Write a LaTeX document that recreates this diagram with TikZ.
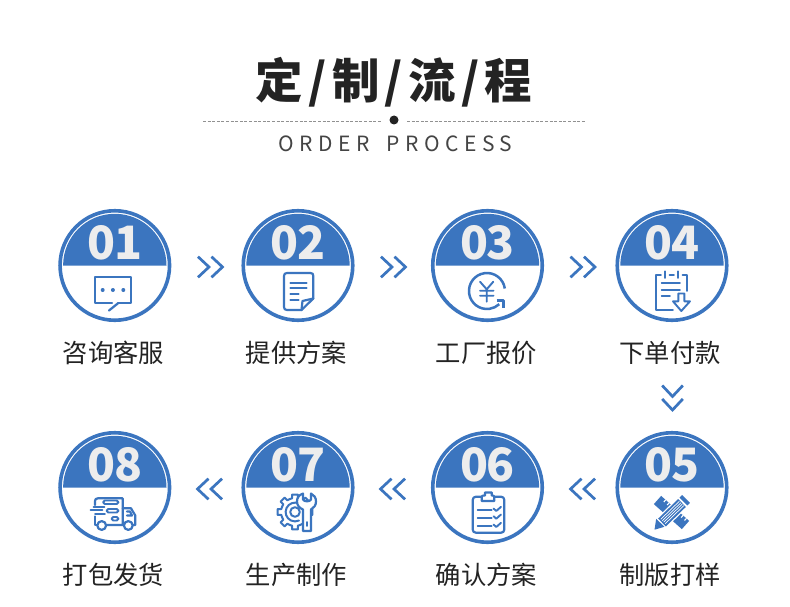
\documentclass[tikz,border=0pt]{standalone}
\usepackage{fontspec}
\newfontfamily\cjk{Noto Sans CJK SC}
\newfontfamily\cjknum[LetterSpace=-3]{Noto Sans CJK SC}
\newfontfamily\cjktitle[LetterSpace=11]{Noto Sans CJK SC}
\newfontfamily\engl[LetterSpace=26,WordSpace=1.7]{Noto Sans CJK SC}
\definecolor{brand}{HTML}{3B75BF}
\definecolor{ink}{HTML}{232323}
\definecolor{numgray}{HTML}{EDEDED}
\tikzset{
  ring/.style={circle,draw=brand,line width=3.6pt,minimum size=109.5pt,inner sep=0pt,fill=white},
  numtxt/.style={text=numgray,font=\cjknum\bfseries\fontsize{46}{46}\selectfont,inner sep=0pt},
  lbl/.style={text=ink,font=\cjk\fontsize{25.3}{25.3}\selectfont,inner sep=0pt},
  chevline/.style={draw=brand,line width=2.7pt,line cap=butt,line join=miter},
  ico/.style={draw=brand,line width=2.2pt,line cap=round,line join=round},
  icothin/.style={draw=brand,line width=1.9pt,line cap=round,line join=round},
}
\newcommand{\stepmark}[6]{% name x y num label labelx
  \node[ring] (#1) at (#2,#3) {};
  \fill[brand] (#2-51.7,#3) arc[start angle=180,end angle=360,radius=51.7] -- cycle;
  \node[numtxt] (#1n) at (#2,#3-23) {#4};
  \node[lbl] (#1l) at (#6,#3+87.5) {#5};
}
\newcommand{\chev}[3]{\draw[chevline] (#1-11*#3,#2-10.3) -- (#1,#2) -- (#1-11*#3,#2+10.3);}
\newcommand{\vchev}[2]{\draw[chevline] (#1-10.3,#2-11) -- (#1,#2) -- (#1+10.3,#2-11);}
\begin{document}
\begin{tikzpicture}[x=1pt,y=-1pt]
\useasboundingbox (0,0) rectangle (790,607);
\fill[white] (0,0) rectangle (790,607);
% title
\node[text=ink,inner sep=0pt,font=\cjktitle\bfseries\fontsize{47.5}{47.5}\selectfont] (title) at (394,82) {定/制/流/程};
\node[circle,fill=ink,minimum size=9pt,inner sep=0pt] (dot) at (394,120) {};
\coordinate (ruleA) at (203,121.5);
\coordinate (ruleB) at (381,121.5);
\coordinate (ruleC) at (407,121.5);
\coordinate (ruleD) at (586,121.5);
\draw[draw=ink!50,line width=.7pt,dash pattern=on 3pt off 1.6pt] (ruleA) -- (ruleB);
\draw[draw=ink!50,line width=.7pt,dash pattern=on 3pt off 1.6pt] (ruleC) -- (ruleD);
\node[text=ink!85,inner sep=0pt,font=\engl\fontsize{21}{21}\selectfont] (sub) at (395.5,144) {ORDER PROCESS};
% steps
\stepmark{s1}{114.8}{265.5}{01}{咨询客服}{113.5}
\stepmark{s2}{298}{265.5}{02}{提供方案}{296.5}
\stepmark{s3}{487.5}{265.5}{03}{工厂报价}{486.5}
\stepmark{s4}{672}{265.5}{04}{下单付款}{670}
\stepmark{s5}{672}{487.5}{05}{制版打样}{670}
\stepmark{s6}{487.5}{487.5}{06}{确认方案}{486.5}
\stepmark{s7}{298}{487.5}{07}{生产制作}{296.5}
\stepmark{s8}{114.8}{487.5}{08}{打包发货}{113.5}
% chevrons
\chev{209}{267}{1}\chev{222.5}{267}{1}
\chev{392}{267}{1}\chev{405.5}{267}{1}
\chev{581.5}{267}{1}\chev{595}{267}{1}
\chev{197.5}{489}{-1}\chev{211}{489}{-1}
\chev{380.5}{489}{-1}\chev{394}{489}{-1}
\chev{570.5}{489}{-1}\chev{584}{489}{-1}
\vchev{672.5}{396.5}\vchev{672.5}{410}
% icon 01
\draw[ico] (118,303.3) -- (131,303.3) -- (131,277.3) -- (95,277.3) -- (95,303.3) -- (112,303.3);
\draw[ico] (109,310.5) -- (118,303.3);
\fill[brand] (102.7,290) circle[radius=2] (112.9,290) circle[radius=2] (123.3,290) circle[radius=2];
% icon 02
\draw[ico] (301.5,310) -- (287,310) .. controls (285,310) and (284,309) .. (284,307) -- (284,276) .. controls (284,274) and (285,273) .. (287,273) -- (310.5,273) .. controls (312.5,273) and (313.3,274) .. (313.3,276) -- (313.3,298.5) -- cycle;
\draw[ico] (301.5,310) -- (302.5,301) -- (313.3,298.5);
\draw[ico] (290.5,282.7) -- (306.5,282.7) (290.5,288.3) -- (306.5,288.3) (290.5,294.3) -- (298.5,294.3) (290.5,300) -- (298.5,300);
% icon 03
\draw[ico,line cap=butt,line width=2.5pt] (504.8,288.5) arc[start angle=-8,end angle=-313,radius=18];
\draw[ico,line cap=butt,line width=2.8pt] (496.7,300.7) -- (503.3,300.7) -- (503.3,307.5);
\draw[icothin] (480,281.7) -- (486.7,289.3) -- (493.3,281.7) (480,290.7) -- (493.5,290.7) (480,295.7) -- (493.5,295.7) (486.7,289.3) -- (486.7,301.7);
% icon 04
\draw[icothin] (661,275.3) -- (656,275.3) -- (656,309.7) -- (673,309.7);
\draw[icothin] (669.5,275.3) -- (674,275.3);
\draw[icothin] (682.5,275.3) -- (686.7,275.3) -- (686.7,291);
\draw[icothin] (665,271.3) -- (665,278) (678.3,271.3) -- (678.3,278);
\draw[icothin] (661.7,283) -- (680,283) (661.7,289.7) -- (680,289.7) (661.7,296.3) -- (670,296.3);
\draw[icothin] (678.3,293.5) -- (684.3,293.5) -- (684.3,301.3) -- (690,301.3) -- (681.3,311) -- (673,301.3) -- (678.3,301.3) -- cycle;
% icon 05
\draw[brand,line width=11pt] (657.5,500) -- (685.5,525);
\foreach \t in {0.16,0.28,0.40,0.66,0.78,0.90}{
  \draw[white,line width=1.1pt] ({657.5+28*\t+3.8},{500+25*\t-4.2}) -- ({657.5+28*\t+1.8},{500+25*\t-2});
}
\draw[white,line width=13.5pt] (661,523.5) -- (686,499);
\draw[brand,line width=11pt] (662,522.5) -- (682,503);
\draw[brand,line width=11pt] (683.4,501.6) -- (686,499);
\foreach \s in {-2.2,-0.7,0.7,2.2}{
  \draw[white,line width=.7pt] ({663+\s},{521.5+\s}) -- ({681.5+\s},{503.5+\s});
}
\fill[brand] (654.5,529.7) -- (656.2,518.8) -- (664.4,526.8) -- cycle;
% icon 06
\draw[ico] (481.7,496.7) -- (476,496.7) .. controls (474,496.7) and (472.7,498) .. (472.7,500) -- (472.7,529.5) .. controls (472.7,531.5) and (474,532.7) .. (476,532.7) -- (501,532.7) .. controls (503,532.7) and (504.3,531.5) .. (504.3,529.5) -- (504.3,500) .. controls (504.3,498) and (503,496.7) .. (501,496.7) -- (494.3,496.7);
\draw[ico] (481.7,501) -- (494.3,501) -- (494.3,497) .. controls (494.3,495.5) and (493,495.5) .. (491.7,495.5) -- (491.7,492.5) -- (485,492.5) -- (485,495.5) .. controls (483,495.5) and (481.7,495.5) .. (481.7,497) -- cycle;
\draw[icothin] (477.7,510) -- (491.7,510) (477.7,517.7) -- (491.7,517.7) (477.7,526) -- (491.7,526);
\foreach \d in {0,7.7,16}{
  \draw[icothin] (493.5,{508.5+\d}) -- (496.3,{511+\d}) -- (501,{506.8+\d});
}
% icon 07
\foreach \a in {0,45,...,315}{
  \draw[ico,line width=2pt] ({295+14*cos(\a-22.5)},{512+14*sin(\a-22.5)}) -- ({295+14*cos(\a-12)},{512+14*sin(\a-12)}) -- ({295+17.7*cos(\a-9)},{512+17.7*sin(\a-9)}) -- ({295+17.7*cos(\a+9)},{512+17.7*sin(\a+9)}) -- ({295+14*cos(\a+12)},{512+14*sin(\a+12)}) -- ({295+14*cos(\a+22.5)},{512+14*sin(\a+22.5)});
}
\draw[ico,line width=2pt] (295,512) circle[radius=4.8];
\draw[ico,line width=2pt] (299,503.5) arc[start angle=-65,end angle=-295,radius=9.4];
\draw[ico,fill=white] (303,531) -- (303,509.5) .. controls (299,508) and (297,505) .. (297,501.5) .. controls (297,497.5) and (299,495) .. (303,493.5) -- (303,499.5) .. controls (304.5,502) and (309.5,502) .. (311,499.5) -- (311,493.5) .. controls (314,495) and (316,497.5) .. (316,501.5) .. controls (316,505) and (314,508) .. (311,509.5) -- (311,531) -- cycle;
\draw[icothin] (307,522) -- (307,526);
% icon 08
\draw[ico] (95,505) -- (95,501) .. controls (95,499.2) and (96,498.3) .. (98,498.3) -- (122.7,498.3) -- (122.7,525) -- (106.5,525);
\draw[ico] (95,516.5) -- (95,525) -- (96.8,525);
\draw[ico] (122.7,508.3) -- (131,508.3) -- (135.3,515.5) -- (135.3,525) -- (133.2,525);
\draw[ico] (122.7,525) -- (123.5,525);
\draw[ico] (127,511.5) -- (130,511.5) -- (132,515.5) -- (127,515.5);
\draw[ico] (101.7,525.5) circle[radius=4.4] (128.3,525.5) circle[radius=4.4];
\draw[icothin,rounded corners=1.5pt] (103.3,500.5) rectangle (118.3,504);
\draw[icothin,rounded corners=1.5pt] (106.7,509) rectangle (118.3,512.5);
\draw[icothin,rounded corners=1.5pt] (111.7,517) rectangle (118.3,520.5);
\draw[icothin] (93.5,506.7) -- (104.5,506.7) (90.5,510.3) -- (102.5,510.3) (95,513.8) -- (105,513.8);
\end{tikzpicture}
\end{document}
